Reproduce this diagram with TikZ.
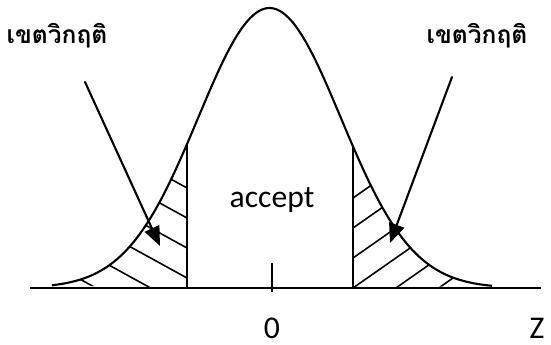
\documentclass[tikz,border=0pt]{standalone}
\usepackage{fontspec}
\setmainfont{Carlito}
\newfontfamily\thaifont[Script=Thai]{Loma}
\usetikzlibrary{arrows,arrows.meta,calc}
\usepackage{tkz-euclide}

\tikzset{
  curveline/.style={line width=1.2pt,color=black},
  hatchline/.style={line width=0.9pt,color=black},
  zonearrow/.style={line width=1.2pt,-{Triangle[length=11pt,width=9pt]}},
  zonelabel/.style={font=\thaifont\bfseries\fontsize{14}{16}\selectfont},
  axislabel/.style={font=\fontsize{18}{20}\selectfont}
}

\begin{document}
\begin{tikzpicture}
\useasboundingbox (-5.44,-1.14) rectangle (5.58,5.76);

\tkzDefPoints{-4.84/0/AxL,5.38/0/AxR,0/-0.08/T1,0/0.5/T2}
\tkzDefPoints{-1.7/0/LB,1.62/0/RB}
\tkzDefPoints{-3.74/4.12/LS,-2.24/0.84/LE,3.6/4.22/RS,2.36/0.9/RE}

% hatched tails
\begin{scope}
\clip plot[domain=-4.4:-1.7,samples=60] (\x,{5.6*exp(-(\x+0.05)^2/(2*1.43^2))}) -- (LB) -- cycle;
\foreach \c in {2.0,1.4,0.8,0.2,-0.4,-1.0,-1.6}
  \draw[hatchline] (-5,{\c+0.55*3.3}) -- (-1.7,\c);
\end{scope}
\begin{scope}
\clip (RB) -- plot[domain=1.62:4.4,samples=60] (\x,{5.6*exp(-(\x+0.05)^2/(2*1.43^2))}) -- cycle;
\foreach \c in {1.8,1.2,0.6,0.0,-0.6,-1.2,-1.8}
  \draw[hatchline] (1.62,\c) -- (5,{\c+0.7*3.38});
\end{scope}

% curve and axis
\draw[curveline] plot[domain=-4.4:4.4,samples=150,smooth] (\x,{5.6*exp(-(\x+0.05)^2/(2*1.43^2))});
\draw[curveline] (AxL) -- (AxR);
\draw[curveline] (T1) -- (T2);
\draw[curveline] (LB) -- ($(LB)+(0,{5.6*exp(-(1.65)^2/(2*1.43^2))})$) coordinate (LT);
\draw[curveline] (RB) -- ($(RB)+(0,{5.6*exp(-(1.67)^2/(2*1.43^2))})$) coordinate (RT);

% labels
\node[zonelabel] (zoneL) at (-4.3,5.04) {เขตวิกฤติ};
\node[zonelabel] (zoneR) at (4.1,5.04) {เขตวิกฤติ};
\node[axislabel] (acc) at (0,1.76) {accept};
\node[axislabel] (zero) at (0,-0.8) {0};
\node[axislabel] (zed) at (5.3,-0.8) {Z};

\tkzDrawSegments[zonearrow](LS,LE RS,RE)

\end{tikzpicture}
\end{document}
